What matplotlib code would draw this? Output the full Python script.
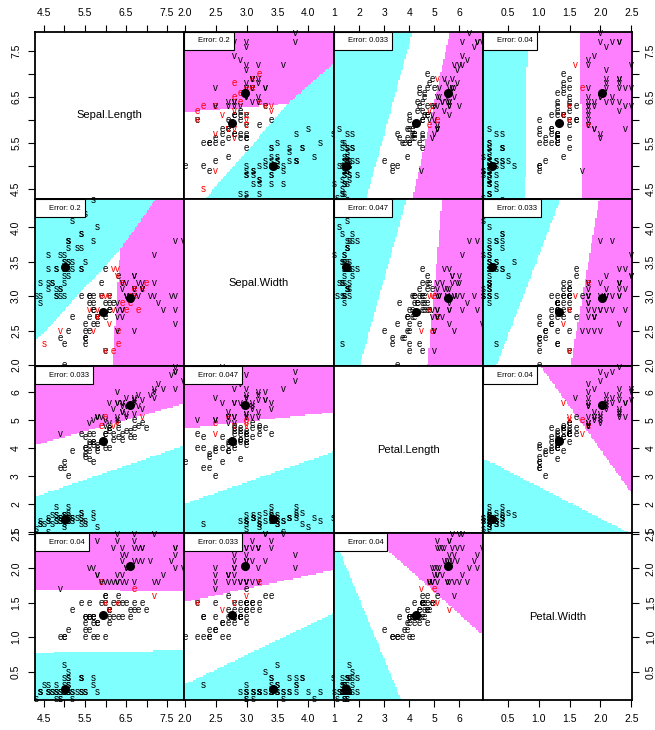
import numpy as np
import matplotlib
matplotlib.use("Agg")
import matplotlib.pyplot as plt
from matplotlib.colors import ListedColormap
from matplotlib.patches import Rectangle
from matplotlib.transforms import offset_copy

plt.rcParams['font.family'] = ['Liberation Sans', 'DejaVu Sans']

# iris data (R datasets::iris)
sepal_length = [5.1, 4.9, 4.7, 4.6, 5.0, 5.4, 4.6, 5.0, 4.4, 4.9, 5.4, 4.8, 4.8, 4.3, 5.8, 5.7, 5.4, 5.1, 5.7, 5.1,
                5.4, 5.1, 4.6, 5.1, 4.8, 5.0, 5.0, 5.2, 5.2, 4.7, 4.8, 5.4, 5.2, 5.5, 4.9, 5.0, 5.5, 4.9, 4.4, 5.1,
                5.0, 4.5, 4.4, 5.0, 5.1, 4.8, 5.1, 4.6, 5.3, 5.0,
                7.0, 6.4, 6.9, 5.5, 6.5, 5.7, 6.3, 4.9, 6.6, 5.2, 5.0, 5.9, 6.0, 6.1, 5.6, 6.7, 5.6, 5.8, 6.2, 5.6,
                5.9, 6.1, 6.3, 6.1, 6.4, 6.6, 6.8, 6.7, 6.0, 5.7, 5.5, 5.5, 5.8, 6.0, 5.4, 6.0, 6.7, 6.3, 5.6, 5.5,
                5.5, 6.1, 5.8, 5.0, 5.6, 5.7, 5.7, 6.2, 5.1, 5.7,
                6.3, 5.8, 7.1, 6.3, 6.5, 7.6, 4.9, 7.3, 6.7, 7.2, 6.5, 6.4, 6.8, 5.7, 5.8, 6.4, 6.5, 7.7, 7.7, 6.0,
                6.9, 5.6, 7.7, 6.3, 6.7, 7.2, 6.2, 6.1, 6.4, 7.2, 7.4, 7.9, 6.4, 6.3, 6.1, 7.7, 6.3, 6.4, 6.0, 6.9,
                6.7, 6.9, 5.8, 6.8, 6.7, 6.7, 6.3, 6.5, 6.2, 5.9]
sepal_width = [3.5, 3.0, 3.2, 3.1, 3.6, 3.9, 3.4, 3.4, 2.9, 3.1, 3.7, 3.4, 3.0, 3.0, 4.0, 4.4, 3.9, 3.5, 3.8, 3.8,
               3.4, 3.7, 3.6, 3.3, 3.4, 3.0, 3.4, 3.5, 3.4, 3.2, 3.1, 3.4, 4.1, 4.2, 3.1, 3.2, 3.5, 3.6, 3.0, 3.4,
               3.5, 2.3, 3.2, 3.5, 3.8, 3.0, 3.8, 3.2, 3.7, 3.3,
               3.2, 3.2, 3.1, 2.3, 2.8, 2.8, 3.3, 2.4, 2.9, 2.7, 2.0, 3.0, 2.2, 2.9, 2.9, 3.1, 3.0, 2.7, 2.2, 2.5,
               3.2, 2.8, 2.5, 2.8, 2.9, 3.0, 2.8, 3.0, 2.9, 2.6, 2.4, 2.4, 2.7, 2.7, 3.0, 3.4, 3.1, 2.3, 3.0, 2.5,
               2.6, 3.0, 2.6, 2.3, 2.7, 3.0, 2.9, 2.9, 2.5, 2.8,
               3.3, 2.7, 3.0, 2.9, 3.0, 3.0, 2.5, 2.9, 2.5, 3.6, 3.2, 2.7, 3.0, 2.5, 2.8, 3.2, 3.0, 3.8, 2.6, 2.2,
               3.2, 2.8, 2.8, 2.7, 3.3, 3.2, 2.8, 3.0, 2.8, 3.0, 2.8, 3.8, 2.8, 2.8, 2.6, 3.0, 3.4, 3.1, 3.0, 3.1,
               3.1, 3.1, 2.7, 3.2, 3.3, 3.0, 2.5, 3.0, 3.4, 3.0]
petal_length = [1.4, 1.4, 1.3, 1.5, 1.4, 1.7, 1.4, 1.5, 1.4, 1.5, 1.5, 1.6, 1.4, 1.1, 1.2, 1.5, 1.3, 1.4, 1.7, 1.5,
                1.7, 1.5, 1.0, 1.7, 1.9, 1.6, 1.6, 1.5, 1.4, 1.6, 1.6, 1.5, 1.5, 1.4, 1.5, 1.2, 1.3, 1.4, 1.3, 1.5,
                1.3, 1.3, 1.3, 1.6, 1.9, 1.4, 1.6, 1.4, 1.5, 1.4,
                4.7, 4.5, 4.9, 4.0, 4.6, 4.5, 4.7, 3.3, 4.6, 3.9, 3.5, 4.2, 4.0, 4.7, 3.6, 4.4, 4.5, 4.1, 4.5, 3.9,
                4.8, 4.0, 4.9, 4.7, 4.3, 4.4, 4.8, 5.0, 4.5, 3.5, 3.8, 3.7, 3.9, 5.1, 4.5, 4.5, 4.7, 4.4, 4.1, 4.0,
                4.4, 4.6, 4.0, 3.3, 4.2, 4.2, 4.2, 4.3, 3.0, 4.1,
                6.0, 5.1, 5.9, 5.6, 5.8, 6.6, 4.5, 6.3, 5.8, 6.1, 5.1, 5.3, 5.5, 5.0, 5.1, 5.3, 5.5, 6.7, 6.9, 5.0,
                5.7, 4.9, 6.7, 4.9, 5.7, 6.0, 4.8, 4.9, 5.6, 5.8, 6.1, 6.4, 5.6, 5.1, 5.6, 6.1, 5.6, 5.5, 4.8, 5.4,
                5.6, 5.1, 5.1, 5.9, 5.7, 5.2, 5.0, 5.2, 5.4, 5.1]
petal_width = [0.2, 0.2, 0.2, 0.2, 0.2, 0.4, 0.3, 0.2, 0.2, 0.1, 0.2, 0.2, 0.1, 0.1, 0.2, 0.4, 0.4, 0.3, 0.3, 0.3,
               0.2, 0.4, 0.2, 0.5, 0.2, 0.2, 0.4, 0.2, 0.2, 0.2, 0.2, 0.4, 0.1, 0.2, 0.2, 0.2, 0.2, 0.1, 0.2, 0.2,
               0.3, 0.3, 0.2, 0.6, 0.4, 0.3, 0.2, 0.2, 0.2, 0.2,
               1.4, 1.5, 1.5, 1.3, 1.5, 1.3, 1.6, 1.0, 1.3, 1.4, 1.0, 1.5, 1.0, 1.4, 1.3, 1.4, 1.5, 1.0, 1.5, 1.1,
               1.8, 1.3, 1.5, 1.2, 1.3, 1.4, 1.4, 1.7, 1.5, 1.0, 1.1, 1.0, 1.2, 1.6, 1.5, 1.6, 1.5, 1.3, 1.3, 1.3,
               1.2, 1.4, 1.2, 1.0, 1.3, 1.2, 1.3, 1.3, 1.1, 1.3,
               2.5, 1.9, 2.1, 1.8, 2.2, 2.1, 1.7, 1.8, 1.8, 2.5, 2.0, 1.9, 2.1, 2.0, 2.4, 2.3, 1.8, 2.2, 2.3, 1.5,
               2.3, 2.0, 2.0, 1.8, 2.1, 1.8, 1.8, 1.8, 2.1, 1.6, 1.9, 2.0, 2.2, 1.5, 1.4, 2.3, 2.4, 1.8, 1.8, 2.1,
               2.4, 2.3, 1.9, 2.3, 2.5, 2.3, 1.9, 2.0, 2.3, 1.8]
species = ['setosa'] * 50 + ['versicolor'] * 50 + ['virginica'] * 50

var_names = ['Sepal.Length', 'Sepal.Width', 'Petal.Length', 'Petal.Width']
class_names = ['setosa', 'versicolor', 'virginica']
class_letters = ['s', 'e', 'v']
region_colors = ['#80FFFF', '#FFFFFF', '#FF80FF']

ticks = [[4.5, 5.0, 5.5, 6.0, 6.5, 7.0, 7.5],
         [2.0, 2.5, 3.0, 3.5, 4.0],
         [1, 2, 3, 4, 5, 6],
         [0.5, 1.0, 1.5, 2.0, 2.5]]
tick_labels = [['4.5', '', '5.5', '', '6.5', '', '7.5'],
               ['2.0', '2.5', '3.0', '3.5', '4.0'],
               ['1', '2', '3', '4', '5', '6'],
               ['0.5', '1.0', '1.5', '2.0', '2.5']]
error_labels = {(0, 1): 'Error: 0.2', (0, 2): 'Error: 0.033', (0, 3): 'Error: 0.04',
                (1, 2): 'Error: 0.047', (1, 3): 'Error: 0.033', (2, 3): 'Error: 0.04'}
prec = 100

data = np.column_stack([sepal_length, sepal_width, petal_length, petal_width])
labels = np.array([class_names.index(s) for s in species])


def lda_fit(X, y):
    means = np.array([X[y == k].mean(axis=0) for k in range(3)])
    resid = X - means[y]
    S = resid.T @ resid / (len(X) - 3)
    Si = np.linalg.inv(S)
    priors = np.array([(y == k).mean() for k in range(3)])
    return means, Si, priors


def lda_predict(X, means, Si, priors):
    scores = X @ Si @ means.T - 0.5 * np.sum((means @ Si) * means, axis=1) + np.log(priors)
    return scores.argmax(axis=1)


def limits(v):
    lo, hi = data[:, v].min(), data[:, v].max()
    half = (hi - lo) / (prec - 1) / 2
    return lo - half, hi + half


W, H = 655, 730
fig = plt.figure(figsize=(W / 100, H / 100), dpi=100)
col_edges = [35, 184.25, 333.5, 482.75, 632]
row_edges = [32, 199, 366, 533, 700]
cmap = ListedColormap(region_colors)
renderer = fig.canvas.get_renderer()

for i in range(4):
    for j in range(4):
        x0, x1 = col_edges[j], col_edges[j + 1]
        y0, y1 = row_edges[i], row_edges[i + 1]
        ax = fig.add_axes([x0 / W, 1 - y1 / H, (x1 - x0) / W, (y1 - y0) / H])
        xl, yl = limits(j), limits(i)

        if i == j:
            ax.text(0.5, 0.5, var_names[i], transform=ax.transAxes, ha='center', va='center', fontsize=8)
        else:
            X = data[:, [j, i]]
            means, Si, priors = lda_fit(X, labels)
            gx = np.linspace(data[:, j].min(), data[:, j].max(), prec)
            gy = np.linspace(data[:, i].min(), data[:, i].max(), prec)
            mx, my = np.meshgrid(gx, gy)
            grid = np.column_stack([mx.ravel(), my.ravel()])
            zone = lda_predict(grid, means, Si, priors).reshape(prec, prec)
            ax.imshow(zone, origin='lower', extent=[xl[0], xl[1], yl[0], yl[1]], cmap=cmap,
                      vmin=-0.5, vmax=2.5, aspect='auto', interpolation='nearest')
            pred = lda_predict(X, means, Si, priors)
            for k in range(len(X)):
                ax.text(X[k, 0], X[k, 1], class_letters[labels[k]],
                        color='black' if pred[k] == labels[k] else 'red',
                        ha='center', va='center', fontsize=7)
            ax.plot(means[:, 0], means[:, 1], 'o', color='black', ms=5.5, zorder=5)

            key = (min(i, j), max(i, j))
            tr = offset_copy(ax.transAxes, fig=fig, x=14, y=-9, units='dots')
            et = ax.text(0, 1, error_labels[key], transform=tr, ha='left', va='center',
                         fontsize=5.5, zorder=8)
            bb = et.get_window_extent(renderer)
            box_w = (bb.x1 + 4 - ax.bbox.x0) / ax.bbox.width
            box_h = 18 / ax.bbox.height
            ax.add_patch(Rectangle((0, 1 - box_h), box_w, box_h, transform=ax.transAxes,
                                   facecolor='white', edgecolor='black', linewidth=0.8,
                                   zorder=7, clip_on=False))

        ax.set_xlim(xl)
        ax.set_ylim(yl)
        ax.set_xticks(ticks[j])
        ax.set_xticklabels(tick_labels[j])
        ax.set_yticks(ticks[i])
        ax.set_yticklabels(tick_labels[i])
        ax.tick_params(top=(i == 0), labeltop=(i == 0), bottom=(i == 3), labelbottom=(i == 3),
                       left=(j == 0), labelleft=(j == 0), right=(j == 3), labelright=(j == 3),
                       direction='out', length=5, width=0.8, pad=5, labelsize=7.5)
        plt.setp(ax.get_yticklabels(), rotation=90, va='center')
        for s in ax.spines.values():
            s.set_linewidth(1.3)

fig.savefig('out.png', dpi=100)
